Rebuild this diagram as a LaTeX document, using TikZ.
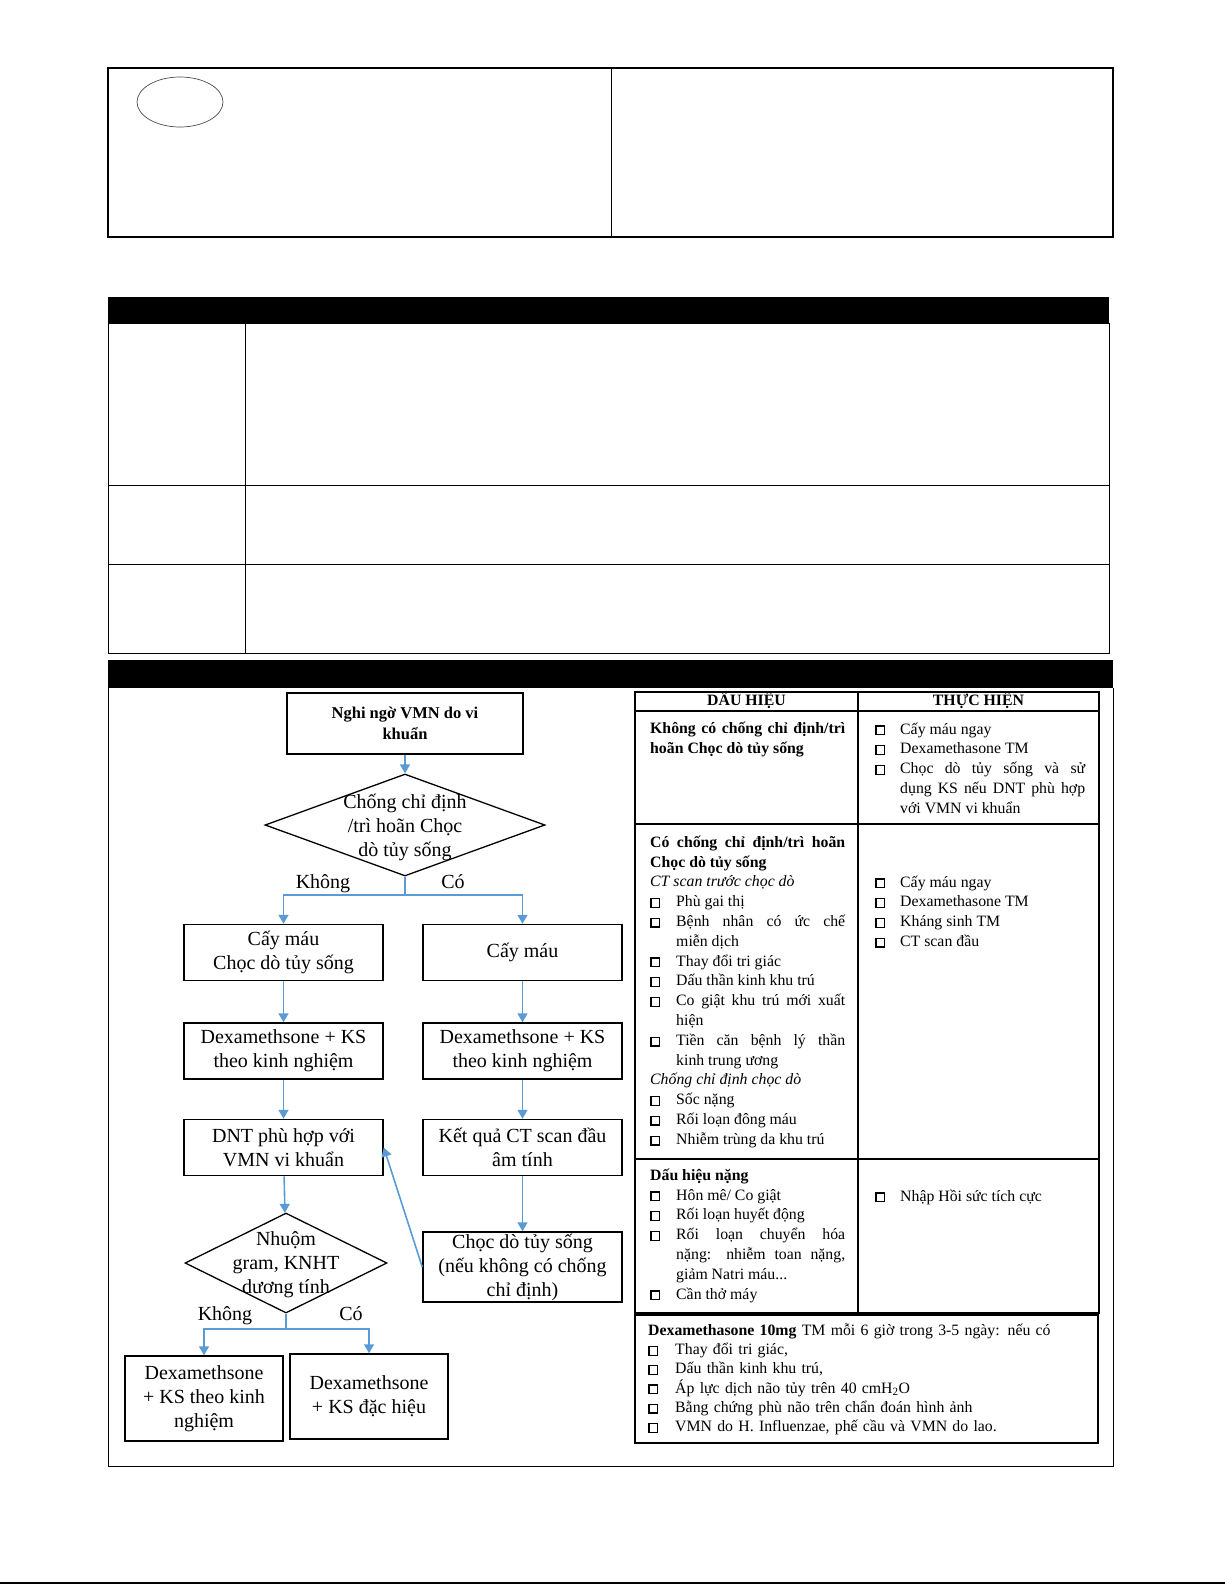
\documentclass[tikz,border=0pt]{standalone}
\usepackage{fontspec}
\setmainfont{Liberation Serif}
\usepackage{tikz}
\usetikzlibrary{arrows.meta, shapes.geometric}

\definecolor{arrowblue}{RGB}{91,155,213}

\newcommand{\flowfont}{\fontsize{20}{24}\selectfont}
\newcommand{\startfont}{\fontsize{16.5}{21}\selectfont\bfseries}
\newcommand{\signfont}{\fontsize{15.8}{19.8}\selectfont\lineskiplimit=-100pt\hyphenpenalty=10000\relax}
\newcommand{\dexafont}{\fontsize{15.8}{19.3}\selectfont\lineskiplimit=-100pt\hyphenpenalty=10000\relax}
\newcommand{\fs}{\rule{0pt}{16pt}}
\newcommand{\cb}{{\setlength{\fboxsep}{0pt}\setlength{\fboxrule}{1.3pt}\fbox{\rule{0pt}{7.4pt}\rule{7.4pt}{0pt}}}}
\newcommand{\itm}[2][26pt]{\par\hangindent=#1\hangafter=1\noindent\fs\makebox[#1][l]{\cb}#2}

\begin{document}
\begin{tikzpicture}[x=1pt, y=-1pt]
    \tikzset{
        flow box/.style={
                draw, line width=1.5pt, align=center, inner sep=0pt,
                font=\flowfont, minimum width=199pt, minimum height=56pt
            },
        flow shape/.style={diamond, draw, line width=1.3pt, inner sep=0pt},
        flow text/.style={align=center, inner sep=0pt, font=\flowfont},
        flow line/.style={arrowblue, line width=1.6pt},
        flow arrow/.style={flow line, -{Triangle[length=9pt, width=10pt]}},
        branch label/.style={anchor=base, inner sep=0pt, font=\flowfont},
        sign text/.style={anchor=north west, inner sep=0pt, align=justify, font=\signfont},
        sign head/.style={anchor=base, inner sep=0pt, font=\signfont\bfseries},
        table line/.style={line width=2.2pt}
    }

    \useasboundingbox (0,0) rectangle (1225,1585);

    % --- khung tren ---
    \draw[line width=1.3pt] (108,68) rectangle (1113,237);
    \draw[line width=0.8pt] (611,68) -- (611,237);
    \draw[gray!60!black, line width=0.7pt] (180,102) ellipse [x radius=43, y radius=25];

    % --- bang giua ---
    \fill (108,297) rectangle (1109,323);
    \draw[line width=0.9pt] (108,323) rectangle (1109,653);
    \draw[line width=0.9pt] (245,323) -- (245,653);
    \draw[line width=0.9pt] (108,485) -- (1109,485);
    \draw[line width=0.9pt] (108,564) -- (1109,564);

    % --- khung so do ---
    \fill (108,660) rectangle (1113,688);
    \draw[line width=0.9pt] (108,688) -- (108,1466) -- (1113,1466) -- (1113,688);
    \draw[line width=1.5pt] (0,1583) -- (1225,1583);

    % --- so do ---
    \node[flow box, font=\startfont, minimum width=236pt, minimum height=61pt] (start) at (405,723.5) {Nghi ngờ VMN do vi\\khuẩn};
    \node[flow shape, minimum width=280pt, minimum height=102pt] (d1) at (405,825) {};
    \node[flow text] (d1text) at (405,827) {Chống chỉ định\\/trì hoãn Chọc\\dò tủy sống};

    \node[flow box] (l1) at (283.5,952.5) {Cấy máu\\Chọc dò tủy sống};
    \node[flow box] (l2) at (283.5,1051) {Dexamethsone + KS\\theo kinh nghiệm};
    \node[flow box] (l3) at (283.5,1147.5) {DNT phù hợp với\\VMN vi khuẩn};

    \node[flow box] (r1) at (522.5,952.5) {Cấy máu};
    \node[flow box] (r2) at (522.5,1051) {Dexamethsone + KS\\theo kinh nghiệm};
    \node[flow box] (r3) at (522.5,1147.5) {Kết quả CT scan đầu\\âm tính};
    \node[flow box, minimum height=70pt] (r4) at (522.5,1267) {Chọc dò tủy sống\\(nếu không có chống\\chỉ định)};

    \node[flow shape, minimum width=202pt, minimum height=100pt] (d2) at (286,1263) {};
    \node[flow text] (d2text) at (286,1265) {Nhuộm\\gram, KNHT\\dương tính};

    \node[flow box, minimum width=158pt, minimum height=85pt] (l5) at (204,1398.5) {Dexamethsone\\+ KS theo kinh\\nghiệm};
    \node[flow box, minimum width=158pt, minimum height=85pt] (r5) at (369,1396.5) {Dexamethsone\\+ KS đặc hiệu};

    \node[branch label] (khong1) at (323,888) {Không};
    \node[branch label] (co1) at (453,888) {Có};
    \node[branch label] (khong2) at (225,1320) {Không};
    \node[branch label] (co2) at (351,1320) {Có};

    \coordinate (s1) at (405,895);
    \coordinate (s2) at (286,1329);

    \draw[flow arrow] (start) -- (d1);
    \draw[flow line] (d1.south) -- (s1);
    \draw[flow arrow] (s1) -| (l1.north);
    \draw[flow arrow] (s1) -| (r1.north);
    \draw[flow arrow] (l1) -- (l2);
    \draw[flow arrow] (l2) -- (l3);
    \draw[flow arrow] (l3) -- (d2);
    \draw[flow arrow] (r1) -- (r2);
    \draw[flow arrow] (r2) -- (r3);
    \draw[flow arrow] (r3) -- (r4);
    \draw[flow arrow] (r4.west) -- (l3.east);
    \draw[flow line] (d2.south) -- (s2);
    \draw[flow arrow] (s2) -| (l5.north);
    \draw[flow arrow] (s2) -| (r5.north);

    % --- bang dau hieu / thuc hien ---
    \draw[table line] (635,692) rectangle (1099,1313);
    \draw[table line] (858,692) -- (858,1313);
    \foreach \y in {711,824,1159} \draw[table line] (635,\y) -- (1099,\y);
    \draw[line width=1.5pt] (635,1315) rectangle (1098,1443);

    \node[sign head] (hdauhieu) at (746.5,705) {DẤU HIỆU};
    \node[sign head] (hthuchien) at (978.5,705) {THỰC HIỆN};

    \node[sign text, text width=195pt] (sign1) at (650,717) {\fs\textbf{Không có chống chỉ định/trì\linebreak hoãn Chọc dò tủy sống}\par};
    \node[sign text, text width=210pt] (act1) at (875,714) {\itm[25pt]{Cấy máu ngay}\itm[25pt]{Dexamethasone TM}\itm[25pt]{Chọc dò tủy sống và sử\linebreak dụng KS nếu DNT phù hợp\linebreak với VMN vi khuẩn}\par};

    \node[sign text, text width=195pt] (sign2) at (650,831) {\fs\textbf{Có chống chỉ định/trì hoãn\linebreak Chọc dò tủy sống}\par
        \noindent\textit{CT scan trước chọc dò}
        \itm{Phù gai thị}
        \itm{Bệnh nhân có ức chế\linebreak miễn dịch}
        \itm{Thay đổi tri giác}
        \itm{Dấu thần kinh khu trú}
        \itm{Co giật khu trú mới xuất\linebreak hiện}
        \itm{Tiền căn bệnh lý thần\linebreak kinh trung ương}\par
        \noindent\textit{Chống chỉ định chọc dò}
        \itm{Sốc nặng}
        \itm{Rối loạn đông máu}
        \itm{Nhiễm trùng da khu trú}\par};
    \node[sign text, text width=210pt] (act2) at (875,867) {\itm[25pt]{Cấy máu ngay}\itm[25pt]{Dexamethasone TM}\itm[25pt]{Kháng sinh TM}\itm[25pt]{CT scan đầu}\par};

    \node[sign text, text width=195pt] (sign3) at (650,1164) {\fs\textbf{Dấu hiệu nặng}
        \itm{Hôn mê/ Co giật}
        \itm{Rối loạn huyết động}
        \itm{Rối loạn chuyển hóa\linebreak nặng: nhiễm toan nặng,\linebreak giảm Natri máu...}
        \itm{Cần thở máy}\par};
    \node[sign text, text width=210pt] (act3) at (875,1181) {\itm[25pt]{Nhập Hồi sức tích cực}\par};

    \node[sign text, text width=440pt, align=left, font=\dexafont] (dexa) at (648,1319) {\fs\textbf{Dexamethasone 10mg} TM mỗi 6 giờ trong 3-5 ngày: nếu có
        \itm[27pt]{Thay đổi tri giác,}
        \itm[27pt]{Dấu thần kinh khu trú,}
        \itm[27pt]{Áp lực dịch não tủy trên 40 cmH\textsubscript{2}O}
        \itm[27pt]{Bằng chứng phù não trên chẩn đoán hình ảnh}
        \itm[27pt]{VMN do H. Influenzae, phế cầu và VMN do lao.}\par};
\end{tikzpicture}
\end{document}
